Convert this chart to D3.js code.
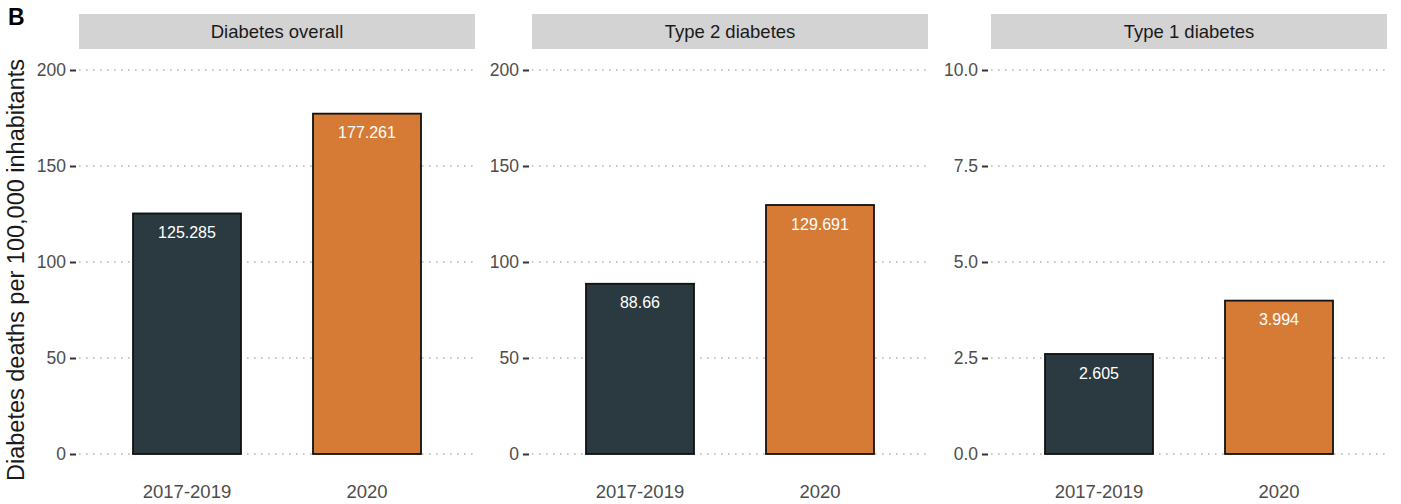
<!DOCTYPE html>
<html>
<head>
<meta charset="utf-8">
<script src="https://cdn.jsdelivr.net/npm/d3@7"></script>
<style>
  html, body { margin: 0; padding: 0; background: #fff; }
  svg { display: block; font-family: "Liberation Sans", Arial, Helvetica, sans-serif; }
</style>
</head>
<body>
<svg id="chart" width="1401" height="504"></svg>
<script>
// Periods compared in each panel
const periods = ["2017-2019", "2020"];

// Facet titles
const panelTitles = ["Diabetes overall", "Type 2 diabetes", "Type 1 diabetes"];

// Deaths per 100,000 inhabitants, one array per panel
const overallValues = [125.285, 177.261];
const type2Values = [88.66, 129.691];
const type1Values = [2.605, 3.994];

// Y tick values and their labels per panel
const ticksLarge = [0, 50, 100, 150, 200];
const tickLabelsLarge = ["0", "50", "100", "150", "200"];
const ticksSmall = [0, 2.5, 5, 7.5, 10];
const tickLabelsSmall = ["0.0", "2.5", "5.0", "7.5", "10.0"];

const barColors = ["#2b3a40", "#d67b35"];

const panels = [
  { title: panelTitles[0], values: overallValues, max: 200, ticks: ticksLarge, labels: tickLabelsLarge },
  { title: panelTitles[1], values: type2Values, max: 200, ticks: ticksLarge, labels: tickLabelsLarge },
  { title: panelTitles[2], values: type1Values, max: 10, ticks: ticksSmall, labels: tickLabelsSmall }
];

const svg = d3.select("#chart");

const panelLeft = [79, 532, 991];
const panelWidth = 396;
const yTop = 70, yBottom = 454;
const stripTop = 14, stripBottom = 49;

// Panel label
svg.append("text")
  .attr("x", 8).attr("y", 25)
  .attr("font-size", 23).attr("font-weight", "bold").attr("fill", "#000")
  .text("B");

// Shared y-axis title
svg.append("text")
  .attr("transform", `translate(24, ${(yTop + yBottom) / 2 + 8}) rotate(-90)`)
  .attr("text-anchor", "middle")
  .attr("font-size", 23.5).attr("fill", "#1a1a1a")
  .text("Diabetes deaths per 100,000 inhabitants");

panels.forEach((p, i) => {
  const x0 = panelLeft[i];
  const g = svg.append("g");

  // Discrete x axis: 0.6 units of padding on each side, bars 0.6 units wide
  const unit = panelWidth / 2.2;
  const xc = d3.scalePoint().domain(periods).range([x0 + 0.6 * unit, x0 + 1.6 * unit]);
  const barW = 0.6 * unit;

  const y = d3.scaleLinear().domain([0, p.max]).range([yBottom, yTop]);

  // Strip
  g.append("rect")
    .attr("x", x0).attr("y", stripTop)
    .attr("width", panelWidth).attr("height", stripBottom - stripTop)
    .attr("fill", "#d3d3d3");
  g.append("text")
    .attr("x", x0 + panelWidth / 2).attr("y", (stripTop + stripBottom) / 2)
    .attr("dy", "0.35em")
    .attr("text-anchor", "middle")
    .attr("font-size", 18.5).attr("fill", "#1a1a1a")
    .text(p.title);

  // Dotted gridlines
  g.selectAll(".grid")
    .data(p.ticks)
    .join("line")
    .attr("x1", x0).attr("x2", x0 + panelWidth)
    .attr("y1", d => y(d)).attr("y2", d => y(d))
    .attr("stroke", "#b8b8b8").attr("stroke-width", 1.6)
    .attr("stroke-dasharray", "1.6,5.4")
    .attr("stroke-linecap", "butt");

  // Y axis
  const yAxis = d3.axisLeft(y)
    .tickValues(p.ticks)
    .tickFormat((d, k) => p.labels[k])
    .tickSize(6)
    .tickPadding(4);
  const ax = g.append("g")
    .attr("transform", `translate(${x0 - 3},0)`)
    .call(yAxis);
  ax.select(".domain").remove();
  ax.selectAll(".tick line").attr("stroke", "#333").attr("stroke-width", 2);
  ax.selectAll(".tick text")
    .attr("font-size", 17.5).attr("fill", "#4d4d4d")
    .attr("font-family", "Liberation Sans, Arial, sans-serif");

  // Bars
  g.selectAll(".bar")
    .data(p.values)
    .join("rect")
    .attr("x", (d, k) => xc(periods[k]) - barW / 2)
    .attr("y", d => y(d))
    .attr("width", barW)
    .attr("height", d => yBottom - y(d))
    .attr("fill", (d, k) => barColors[k])
    .attr("stroke", "#111")
    .attr("stroke-width", 1.8);

  // Value labels inside bars
  g.selectAll(".val")
    .data(p.values)
    .join("text")
    .attr("x", (d, k) => xc(periods[k]))
    .attr("y", d => y(d) + 19)
    .attr("dy", "0.35em")
    .attr("text-anchor", "middle")
    .attr("font-size", 16).attr("fill", "#ffffff")
    .text(d => String(d));

  // X labels
  g.selectAll(".xl")
    .data(periods)
    .join("text")
    .attr("x", d => xc(d))
    .attr("y", 492)
    .attr("dy", "0.35em")
    .attr("text-anchor", "middle")
    .attr("font-size", 18.5).attr("fill", "#4d4d4d")
    .text(d => d);
});
</script>
</body>
</html>
